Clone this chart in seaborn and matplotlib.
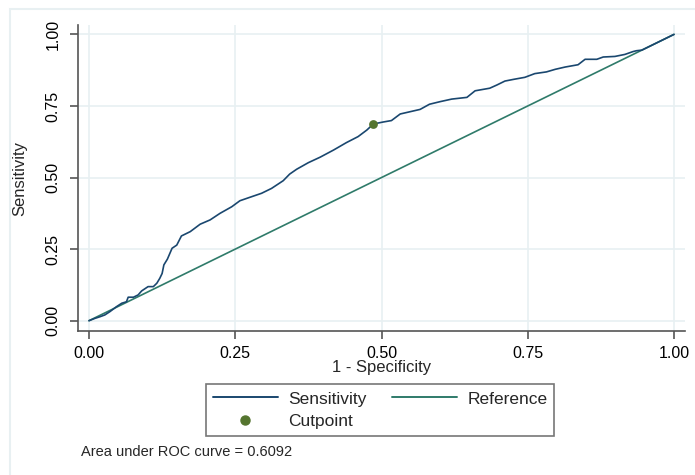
import matplotlib
matplotlib.use("Agg")
import matplotlib.pyplot as plt
from matplotlib.lines import Line2D
from matplotlib.patches import Rectangle
import seaborn as sns
import pandas as pd

# ROC curve: 1 - specificity vs sensitivity
fpr = [0.000, 0.010, 0.019, 0.027, 0.036, 0.047, 0.056, 0.064, 0.067, 0.076,
       0.084, 0.090, 0.101, 0.110, 0.116, 0.121, 0.125, 0.128, 0.134, 0.142,
       0.150, 0.158, 0.173, 0.190, 0.207, 0.224, 0.244, 0.258, 0.275, 0.295,
       0.312, 0.332, 0.343, 0.355, 0.375, 0.395, 0.418, 0.440, 0.460, 0.475,
       0.486, 0.503, 0.517, 0.532, 0.549, 0.566, 0.582, 0.600, 0.620, 0.646,
       0.660, 0.685, 0.697, 0.711, 0.726, 0.745, 0.762, 0.782, 0.797, 0.814,
       0.836, 0.848, 0.868, 0.879, 0.899, 0.916, 0.930, 0.936, 0.945, 1.000]
tpr = [0.000, 0.008, 0.014, 0.020, 0.032, 0.049, 0.061, 0.066, 0.082, 0.082,
       0.090, 0.104, 0.119, 0.119, 0.131, 0.148, 0.165, 0.195, 0.215, 0.253,
       0.264, 0.296, 0.311, 0.337, 0.352, 0.375, 0.398, 0.419, 0.431, 0.445,
       0.462, 0.489, 0.512, 0.529, 0.552, 0.571, 0.596, 0.622, 0.643, 0.666,
       0.687, 0.694, 0.699, 0.722, 0.730, 0.738, 0.756, 0.765, 0.774, 0.780,
       0.803, 0.812, 0.823, 0.837, 0.843, 0.850, 0.863, 0.869, 0.878, 0.886,
       0.894, 0.913, 0.913, 0.921, 0.923, 0.930, 0.940, 0.943, 0.945, 1.000]

ref_x = [0.0, 1.0]
ref_y = [0.0, 1.0]

cut_x = [0.486]
cut_y = [0.687]

auc = 0.6092
ticks = [0.00, 0.25, 0.50, 0.75, 1.00]
tick_labels = ["0.00", "0.25", "0.50", "0.75", "1.00"]

NAVY = "#1a476f"
TEAL = "#2f7b6a"
FOREST = "#55752f"
GRID = "#e8f0f2"
AXIS = "#555555"

sns.set_style("white")
plt.rcParams["font.family"] = ["Liberation Sans", "DejaVu Sans"]

fig = plt.figure(figsize=(6.95, 4.75), dpi=100)
ax = fig.add_axes([78 / 695, 1 - 331 / 475, (685 - 78) / 695, (331 - 25) / 475])

roc = pd.DataFrame({"fpr": fpr, "tpr": tpr})
ref = pd.DataFrame({"x": ref_x, "y": ref_y})
cut = pd.DataFrame({"x": cut_x, "y": cut_y})

sns.lineplot(data=roc, x="fpr", y="tpr", sort=False, estimator=None,
             color=NAVY, linewidth=1.2, ax=ax, zorder=3)
sns.lineplot(data=ref, x="x", y="y", sort=False, estimator=None,
             color=TEAL, linewidth=1.2, ax=ax, zorder=2)
sns.scatterplot(data=cut, x="x", y="y", color=FOREST, s=40, edgecolor=FOREST,
                linewidth=0, ax=ax, zorder=4)

ax.set_xlim(-0.0188, 1.0188)
ax.set_ylim(-0.036, 1.0328)
ax.set_xticks(ticks)
ax.set_xticklabels(tick_labels)
ax.set_yticks(ticks)
ax.set_yticklabels(tick_labels, rotation=90, va="center")
ax.grid(True, color=GRID, linewidth=1.2)
ax.set_axisbelow(True)

for side in ("top", "right"):
    ax.spines[side].set_visible(False)
for side in ("left", "bottom"):
    ax.spines[side].set_color(AXIS)
    ax.spines[side].set_linewidth(1.2)
ax.tick_params(axis="both", direction="out", length=6, width=1.2, color=AXIS,
               labelsize=11.5, labelcolor="black", left=True, bottom=True)
ax.tick_params(axis="x", pad=5)
ax.tick_params(axis="y", pad=6.5)

ax.set_xlabel("1 - Specificity", fontsize=12, labelpad=-1)
ax.set_ylabel("Sensitivity", fontsize=12, labelpad=13.5)

handles = [
    Line2D([], [], color=NAVY, linewidth=1.4),
    Line2D([], [], linestyle="none", marker="o", markersize=6.5,
           markerfacecolor=FOREST, markeredgecolor=FOREST),
    Line2D([], [], color=TEAL, linewidth=1.4),
]
labels = ["Sensitivity", "Cutpoint", "Reference"]
leg = fig.legend(handles, labels, ncol=2, loc="center",
                 bbox_to_anchor=(380 / 695, 1 - 410 / 475),
                 fontsize=12.5, frameon=True, fancybox=False,
                 handlelength=3.75, handletextpad=0.58, columnspacing=1.5,
                 borderpad=0.4, labelspacing=0.4, borderaxespad=0)
leg.get_frame().set_edgecolor(AXIS)
leg.get_frame().set_linewidth(1.2)

fig.text(81 / 695, 1 - 452 / 475, f"Area under ROC curve = {auc:.4f}",
         fontsize=10.5, ha="left", va="center")

# outer graph-region border
fig.patches.append(Rectangle((9.5 / 695, -0.2), 1.2, 1 - 8.5 / 475 + 0.2,
                             transform=fig.transFigure, fill=False,
                             edgecolor=GRID, linewidth=1.5, zorder=0))

fig.savefig("out.png", dpi=100)
